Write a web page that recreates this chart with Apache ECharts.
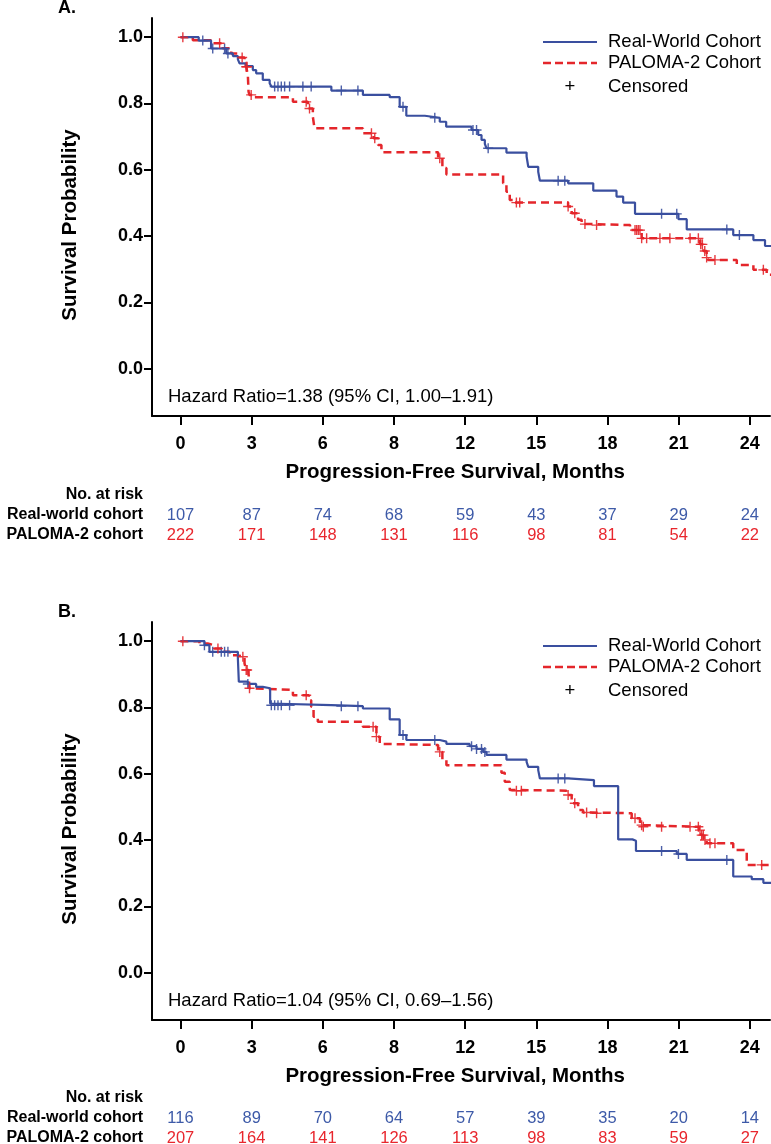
<!DOCTYPE html>
<html><head><meta charset="utf-8">
<script src="https://cdn.jsdelivr.net/npm/echarts@6/dist/echarts.min.js"></script>
<style>html,body{margin:0;padding:0;background:#fff}#c{width:771px;height:1144px}</style>
</head><body><div id="c"></div>
<script>
// ---------- tick labels ----------
const xTickValues = [0, 3, 6, 9, 12, 15, 18, 21, 24];
const xTickLabels = ['0', '3', '6', '8', '12', '15', '18', '21', '24'];
const yTickValues = [0, 0.2, 0.4, 0.6, 0.8, 1.0];

// ---------- Panel A: Real-world cohort (event time, survival after event) ----------
const A_rw_time = [0, 0.77, 1.29, 1.93, 2.21, 2.42, 2.49, 2.77, 3.05, 3.19, 3.47, 3.76, 3.83, 6.36, 7.69, 8.82, 9.24, 9.52, 10.3, 10.93, 11.2, 12.27, 12.55, 12.69, 12.83, 12.9, 13.74, 14.59, 14.66, 15.08, 15.15, 16.34, 17.4, 18.38, 18.66, 19.16, 20.99, 21.34, 23.3, 24.15, 24.64];
const A_rw_surv = [1.0, 0.99, 0.966, 0.951, 0.943, 0.933, 0.921, 0.913, 0.901, 0.891, 0.871, 0.861, 0.851, 0.839, 0.826, 0.819, 0.79, 0.763, 0.757, 0.745, 0.730, 0.720, 0.705, 0.690, 0.678, 0.665, 0.652, 0.640, 0.609, 0.594, 0.567, 0.559, 0.537, 0.519, 0.501, 0.467, 0.451, 0.42, 0.403, 0.388, 0.37];
const A_rw_censor = [0.94, 1.36, 1.86, 2.0, 3.97, 4.11, 4.25, 4.39, 4.6, 5.16, 5.51, 6.78, 7.48, 9.38, 10.72, 12.33, 12.48, 12.97, 15.92, 16.2, 20.28, 20.92, 23.03, 23.56];

// ---------- Panel A: PALOMA-2 cohort ----------
const A_pal_time = [0, 0.52, 1.36, 1.78, 2.14, 2.42, 2.7, 2.77, 2.84, 2.87, 2.91, 3.05, 4.74, 5.37, 5.58, 5.65, 7.69, 8.14, 8.33, 8.47, 10.86, 11.04, 11.21, 13.6, 13.74, 13.88, 14.02, 16.34, 16.49, 16.76, 16.91, 17.4, 18.95, 19.44, 21.9, 22.04, 22.18, 22.25, 23.45, 24.15, 24.71];
const A_pal_surv = [1.0, 0.991, 0.982, 0.967, 0.951, 0.939, 0.925, 0.911, 0.886, 0.836, 0.826, 0.819, 0.805, 0.785, 0.760, 0.725, 0.71, 0.695, 0.675, 0.653, 0.635, 0.605, 0.586, 0.559, 0.534, 0.509, 0.501, 0.489, 0.469, 0.449, 0.436, 0.433, 0.418, 0.393, 0.375, 0.355, 0.335, 0.328, 0.313, 0.298, 0.283];
const A_pal_censor = [0.1, 1.65, 2.6, 2.77, 2.81, 2.98, 5.3, 5.44, 8.05, 8.19, 10.93, 14.16, 14.3, 16.34, 16.62, 17.05, 17.54, 19.16, 19.23, 19.3, 19.37, 19.44, 19.65, 20.21, 20.63, 21.48, 21.83, 21.93, 22.0, 22.1, 22.18, 22.53, 24.57];

// ---------- Panel B: Real-world cohort ----------
const B_rw_time = [0, 1.01, 1.22, 2.42, 2.46, 2.84, 3.19, 3.47, 3.78, 3.83, 6.36, 7.69, 8.82, 9.24, 9.52, 10.93, 11.21, 12.19, 12.48, 12.76, 12.9, 13.74, 14.59, 14.66, 15.08, 15.15, 16.34, 17.43, 18.45, 19.05, 19.2, 20.92, 21.34, 23.3, 24.08, 24.57];
const B_rw_surv = [1.0, 0.988, 0.968, 0.948, 0.878, 0.871, 0.862, 0.858, 0.812, 0.807, 0.804, 0.797, 0.764, 0.717, 0.702, 0.697, 0.690, 0.683, 0.675, 0.666, 0.657, 0.643, 0.636, 0.621, 0.611, 0.586, 0.581, 0.563, 0.402, 0.398, 0.367, 0.358, 0.34, 0.29, 0.282, 0.271];
const B_rw_censor = [1.01, 1.36, 1.72, 1.86, 2.0, 2.84, 3.83, 3.97, 4.11, 4.25, 4.6, 6.78, 7.48, 9.38, 10.72, 12.27, 12.48, 12.69, 12.83, 15.92, 16.2, 20.28, 20.99, 23.03];

// ---------- Panel B: PALOMA-2 cohort ----------
const B_pal_time = [0, 0.8, 1.15, 1.43, 1.72, 2.07, 2.35, 2.7, 2.77, 2.87, 2.91, 2.98, 4.74, 5.41, 5.51, 5.61, 5.79, 7.69, 8.26, 8.4, 8.54, 10.86, 11.04, 11.21, 13.53, 13.67, 13.88, 14.02, 16.27, 16.49, 16.76, 16.97, 17.4, 19.02, 19.37, 19.5, 21.85, 21.95, 22.05, 22.18, 23.3, 23.87];
const B_pal_surv = [1.0, 0.993, 0.988, 0.978, 0.968, 0.958, 0.953, 0.933, 0.913, 0.903, 0.858, 0.853, 0.837, 0.822, 0.802, 0.772, 0.757, 0.742, 0.712, 0.690, 0.687, 0.666, 0.641, 0.626, 0.603, 0.576, 0.551, 0.549, 0.536, 0.511, 0.491, 0.483, 0.481, 0.466, 0.445, 0.440, 0.43, 0.415, 0.40, 0.39, 0.37, 0.325];
const B_pal_censor = [0.1, 1.58, 2.63, 2.77, 2.81, 2.91, 5.3, 8.12, 8.26, 10.93, 14.16, 14.37, 16.34, 16.62, 17.12, 17.54, 19.16, 19.44, 19.51, 20.28, 21.48, 21.83, 21.9, 21.97, 22.04, 22.11, 22.32, 22.53, 24.5];

// ---------- Numbers at risk ----------
const riskA_rw = [107, 87, 74, 68, 59, 43, 37, 29, 24];
const riskA_pal = [222, 171, 148, 131, 116, 98, 81, 54, 22];
const riskB_rw = [116, 89, 70, 64, 57, 39, 35, 20, 14];
const riskB_pal = [207, 164, 141, 126, 113, 98, 83, 59, 27];

const hrA = 'Hazard Ratio=1.38 (95% CI, 1.00\u20131.91)';
const hrB = 'Hazard Ratio=1.04 (95% CI, 0.69\u20131.56)';
const seriesNames = ['Real-World Cohort', 'PALOMA-2 Cohort', 'Censored'];

// ---------- styling ----------
const BLUE = '#3a4f9f';
const RED = '#e4262b';
const RISK_BLUE = '#3d5aa8';
const RISK_RED = '#e8262d';
const FONT = '"Liberation Sans", Arial, Helvetica, sans-serif';
const X_MIN = -1.2, X_MAX = 24.85, Y_MIN = -0.143, Y_MAX = 1.058;
const PLUS = 'path://M4.3,0H5.7V4.3H10V5.7H5.7V10H4.3V5.7H0V4.3H4.3Z';

function stepAt(times, surv, t) {
  let v = surv[0];
  for (let i = 0; i < times.length; i++) { if (times[i] <= t) v = surv[i]; }
  return v;
}
function lineData(times, surv) {
  const d = times.map((t, i) => [t, surv[i]]);
  d.push([X_MAX + 1, surv[surv.length - 1]]);
  return d;
}
function censorData(times, surv, cens) {
  return cens.map(t => [t, stepAt(times, surv, t)]);
}

const grids = [
  { left: 152, top: 18, width: 618, height: 398 },
  { left: 152, top: 622, width: 618, height: 398 }
];

function xAxisFor(i) {
  return {
    type: 'value', gridIndex: i, min: X_MIN, max: X_MAX, position: 'bottom',
    splitLine: { show: false },
    axisLine: { show: true, onZero: false, lineStyle: { color: '#000', width: 2 } },
    axisTick: { show: true, customValues: xTickValues, length: 9, lineStyle: { color: '#000', width: 2 } },
    axisLabel: {
      show: true, customValues: xTickValues, margin: 19,
      formatter: v => xTickLabels[xTickValues.indexOf(Math.round(v))] || '',
      fontFamily: FONT, fontWeight: 'bold', fontSize: 18, color: '#000'
    }
  };
}
function yAxisFor(i) {
  return {
    type: 'value', gridIndex: i, min: Y_MIN, max: Y_MAX, position: 'left',
    splitLine: { show: false },
    axisLine: { show: true, onZero: false, lineStyle: { color: '#000', width: 2 } },
    axisTick: { show: true, customValues: yTickValues, length: 8, lineStyle: { color: '#000', width: 2 } },
    axisLabel: {
      show: true, customValues: yTickValues, margin: 9,
      formatter: v => v.toFixed(1),
      fontFamily: FONT, fontWeight: 'bold', fontSize: 18, color: '#000'
    }
  };
}

function panelSeries(i, rwT, rwS, rwC, palT, palS, palC) {
  return [
    { name: seriesNames[0], type: 'line', xAxisIndex: i, yAxisIndex: i, step: 'end', showSymbol: false, silent: true, z: 3,
      data: lineData(rwT, rwS), lineStyle: { color: BLUE, width: 2.2 }, itemStyle: { color: BLUE } },
    { name: seriesNames[1], type: 'line', xAxisIndex: i, yAxisIndex: i, step: 'end', showSymbol: false, silent: true, z: 2,
      data: lineData(palT, palS), lineStyle: { color: RED, width: 2.5, type: [8, 5] }, itemStyle: { color: RED } },
    { name: seriesNames[0] + ' censored', type: 'scatter', xAxisIndex: i, yAxisIndex: i, symbol: PLUS, symbolSize: 10, silent: true, z: 4,
      data: censorData(rwT, rwS, rwC), itemStyle: { color: BLUE, opacity: 0.9 } },
    { name: seriesNames[1] + ' censored', type: 'scatter', xAxisIndex: i, yAxisIndex: i, symbol: PLUS, symbolSize: 10, silent: true, z: 4,
      data: censorData(palT, palS, palC), itemStyle: { color: RED, opacity: 0.9 } }
  ];
}

const chart = echarts.init(document.getElementById('c'), null, { renderer: 'canvas' });
chart.setOption({
  animation: false,
  backgroundColor: '#fff',
  grid: grids,
  xAxis: [xAxisFor(0), xAxisFor(1)],
  yAxis: [yAxisFor(0), yAxisFor(1)],
  series: [].concat(
    panelSeries(0, A_rw_time, A_rw_surv, A_rw_censor, A_pal_time, A_pal_surv, A_pal_censor),
    panelSeries(1, B_rw_time, B_rw_surv, B_rw_censor, B_pal_time, B_pal_surv, B_pal_censor)
  )
});

// ---------- text, legend and risk table ----------
const g = [];
function txt(x, y, text, o) {
  g.push({ type: 'text', x: x, y: y, silent: true, rotation: (o && o.rot) || 0,
    style: { text: text, fill: (o && o.color) || '#000', font: ((o && o.weight) || 'normal') + ' ' + ((o && o.size) || 16) + 'px ' + FONT,
      textAlign: (o && o.align) || 'left', textVerticalAlign: 'middle' } });
}
const panels = [
  { gi: 0, top: 18, labelY: 8, riskOff: 79, label: 'A.', hr: hrA, rw: riskA_rw, pal: riskA_pal },
  { gi: 1, top: 622, labelY: 612, riskOff: 78, label: 'B.', hr: hrB, rw: riskB_rw, pal: riskB_pal }
];
panels.forEach(p => {
  const off = p.top - 18;
  const bottom = p.top + 398;
  txt(58, p.labelY, p.label, { weight: 'bold', size: 18 });
  txt(70, 225 + off, 'Survival Probability', { weight: 'bold', size: 20.5, align: 'center', rot: Math.PI / 2 });
  const xc = chart.convertToPixel({ gridIndex: p.gi }, [12, 0])[0];
  txt(xc - 10, bottom + 56, 'Progression-Free Survival, Months', { weight: 'bold', size: 20.5, align: 'center' });
  txt(168, bottom - 19, p.hr, { size: 18.5 });
  // legend
  const ly = [p.top + 24, p.top + 45, p.top + 69];
  g.push({ type: 'line', silent: true, shape: { x1: 543, y1: ly[0], x2: 597, y2: ly[0] }, style: { stroke: BLUE, lineWidth: 2.2 } });
  g.push({ type: 'line', silent: true, shape: { x1: 543, y1: ly[1], x2: 597, y2: ly[1] }, style: { stroke: RED, lineWidth: 2.5, lineDash: [8, 4] } });
  txt(570, ly[2], '+', { size: 18.5, align: 'center' });
  txt(608, ly[0], seriesNames[0], { size: 18.5 });
  txt(608, ly[1], seriesNames[1], { size: 18.5 });
  txt(608, ly[2], seriesNames[2], { size: 18.5 });
  // risk table
  const r0 = bottom + p.riskOff;
  txt(143, r0, 'No. at risk', { weight: 'bold', size: 16, align: 'right' });
  txt(143, r0 + 20, 'Real-world cohort', { weight: 'bold', size: 16, align: 'right' });
  txt(143, r0 + 40, 'PALOMA-2 cohort', { weight: 'bold', size: 16, align: 'right' });
  xTickValues.forEach((t, i) => {
    const x = chart.convertToPixel({ gridIndex: p.gi }, [t, 0])[0];
    txt(x, r0 + 20, String(p.rw[i]), { size: 16.5, align: 'center', color: RISK_BLUE });
    txt(x, r0 + 40, String(p.pal[i]), { size: 16.5, align: 'center', color: RISK_RED });
  });
});
chart.setOption({ graphic: g });
</script></body></html>
